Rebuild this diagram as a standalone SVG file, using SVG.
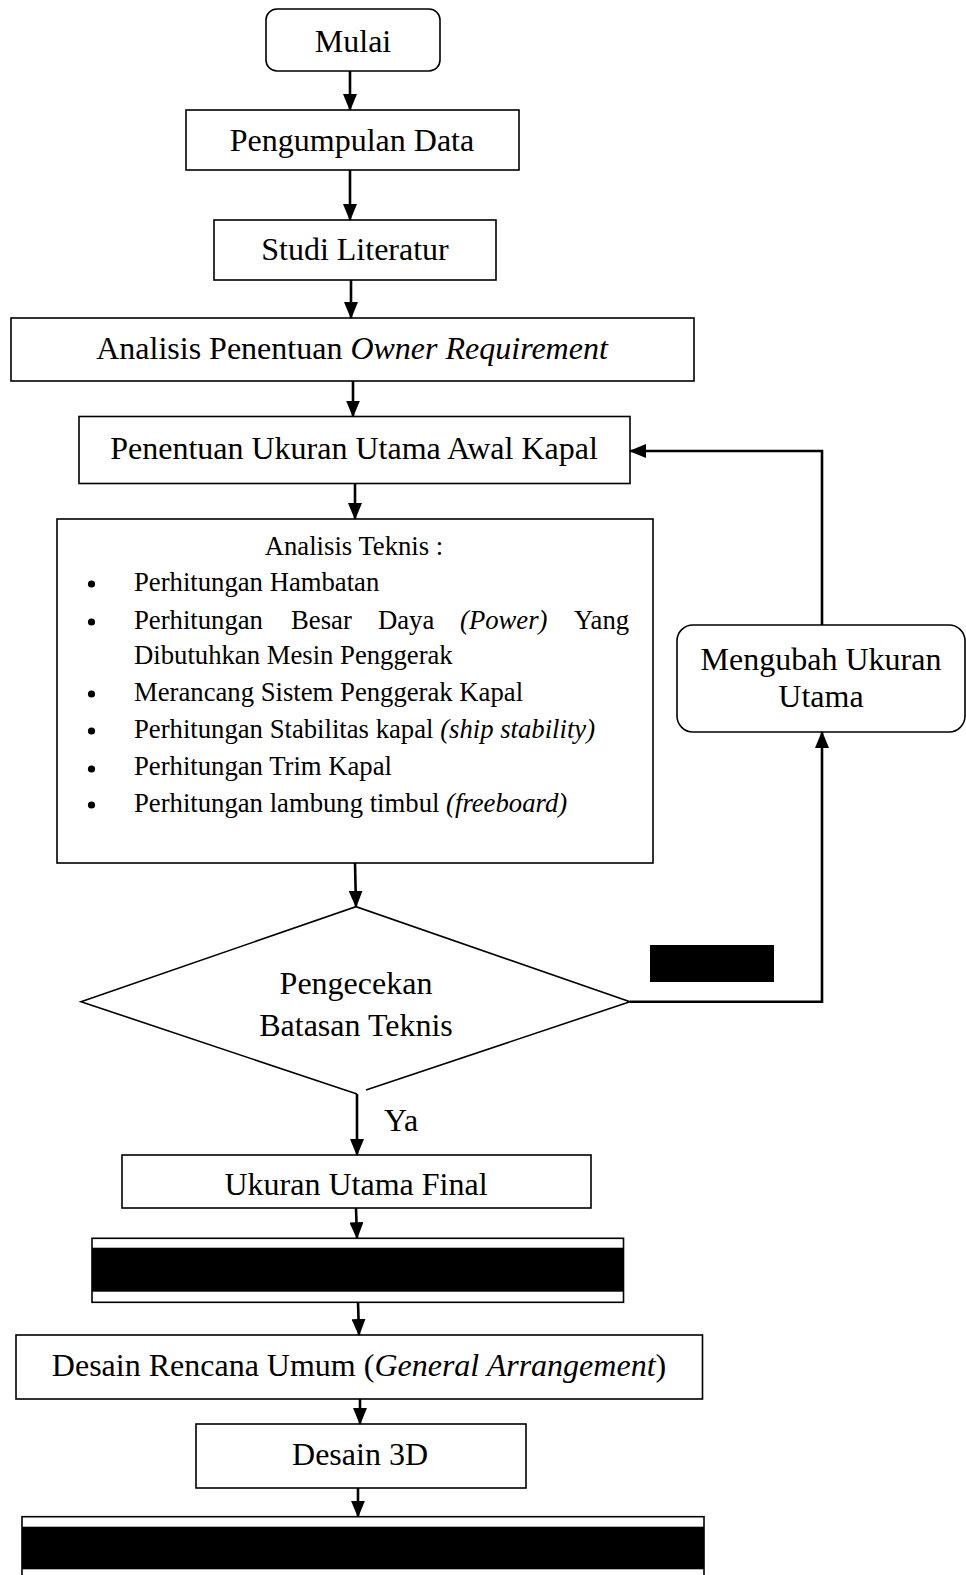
<svg xmlns="http://www.w3.org/2000/svg" width="966" height="1575" viewBox="0 0 966 1575">
<style>
.box{fill:#fff;stroke:#000;stroke-width:1.6}
.t{font-family:"Liberation Serif","Times New Roman",serif;font-size:32px;fill:#000}
.s{font-family:"Liberation Serif","Times New Roman",serif;font-size:26.7px;fill:#000}
.c{text-anchor:middle}
.i{font-style:italic}
.con{fill:none;stroke:#000;stroke-width:2.6}
.blk{fill:#000}
</style>
<defs>
<marker id="ah" viewBox="0 0 17 14" refX="16" refY="7" markerWidth="17" markerHeight="14" markerUnits="userSpaceOnUse" orient="auto">
<path d="M0,0 L17,7 L0,14 z" fill="#000"/>
</marker>
</defs>
<rect width="966" height="1575" fill="#fff"/>

<g id="mulai">
<rect class="box" x="266" y="9" width="174" height="62" rx="11"/>
<text class="t c" x="353" y="52">Mulai</text>
</g>
<g id="pengumpulan">
<rect class="box" x="186" y="110" width="333" height="60"/>
<text class="t c" x="352" y="151">Pengumpulan Data</text>
</g>
<g id="studi">
<rect class="box" x="214" y="220" width="282" height="60"/>
<text class="t c" x="355" y="260">Studi Literatur</text>
</g>
<g id="owner">
<rect class="box" x="11" y="318" width="683" height="63"/>
<text class="t c" x="352" y="359">Analisis Penentuan <tspan class="i">Owner Requirement</tspan></text>
</g>
<g id="awal">
<rect class="box" x="79" y="416.5" width="551" height="67"/>
<text class="t c" x="354" y="459">Penentuan Ukuran Utama Awal Kapal</text>
</g>
<g id="teknis">
<rect class="box" x="57" y="519" width="596" height="344"/>
<text class="s c" x="354" y="555">Analisis Teknis :</text>
<g fill="#000">
<circle cx="91.5" cy="584" r="3.6"/>
<circle cx="91.5" cy="622" r="3.6"/>
<circle cx="91.5" cy="694" r="3.6"/>
<circle cx="91.5" cy="731" r="3.6"/>
<circle cx="91.5" cy="769" r="3.6"/>
<circle cx="91.5" cy="805" r="3.6"/>
</g>
<text class="s" x="134" y="591">Perhitungan Hambatan</text>
<text class="s" y="628.5"><tspan x="134">Perhitungan</tspan><tspan x="291">Besar</tspan><tspan x="378">Daya</tspan><tspan x="460" class="i">(Power)</tspan><tspan x="574">Yang</tspan></text>
<text class="s" x="134" y="663.5">Dibutuhkan Mesin Penggerak</text>
<text class="s" x="134" y="700.5">Merancang Sistem Penggerak Kapal</text>
<text class="s" x="134" y="738">Perhitungan Stabilitas kapal <tspan class="i">(ship stability)</tspan></text>
<text class="s" x="134" y="775">Perhitungan Trim Kapal</text>
<text class="s" x="134" y="812">Perhitungan lambung timbul <tspan class="i">(freeboard)</tspan></text>
</g>
<g id="mengubah">
<rect class="box" x="677" y="625" width="288" height="107" rx="16"/>
<text class="t c" x="821" y="670">Mengubah Ukuran</text>
<text class="t c" x="821" y="707">Utama</text>
</g>
<g id="cek">
<path class="box" d="M357,1094 L81,1001.7 L356,906.7 L630,1001.7 L366,1090"/>
<text class="t c" x="356" y="994">Pengecekan</text>
<text class="t c" x="356" y="1036">Batasan Teknis</text>
</g>
<g id="label-tidak">
<rect class="blk" x="650" y="945" width="124" height="37"/>
</g>
<g id="final">
<rect class="box" x="122" y="1155" width="469" height="53"/>
<text class="t c" x="356" y="1195">Ukuran Utama Final</text>
</g>
<g id="redacted1">
<rect class="box" x="92" y="1238.3" width="531.5" height="64"/>
<rect class="blk" x="92" y="1247.7" width="531.5" height="44"/>
</g>
<g id="ga">
<rect class="box" x="16" y="1335" width="686.5" height="64"/>
<text class="t c" x="359" y="1376">Desain Rencana Umum (<tspan class="i">General Arrangement</tspan>)</text>
</g>
<g id="desain3d">
<rect class="box" x="196" y="1424" width="330" height="64"/>
<text class="t c" x="360" y="1465">Desain 3D</text>
</g>
<g id="redacted2">
<rect class="box" x="22" y="1516.7" width="682" height="70"/>
<rect class="blk" x="22" y="1526.7" width="682" height="42.6"/>
</g>

<g id="connectors">
<path class="con" d="M350,71 V110" marker-end="url(#ah)"/>
<path class="con" d="M350,170 V220" marker-end="url(#ah)"/>
<path class="con" d="M351,280 V318" marker-end="url(#ah)"/>
<path class="con" d="M353,381 V416.5" marker-end="url(#ah)"/>
<path class="con" d="M355,484 V519" marker-end="url(#ah)"/>
<path class="con" d="M355,863 L356,906.7" marker-end="url(#ah)"/>
<path class="con" d="M357,1094 V1155" marker-end="url(#ah)"/>
<path class="con" d="M356,1208 L357,1238.3" marker-end="url(#ah)"/>
<path class="con" d="M358,1302 L359,1335" marker-end="url(#ah)"/>
<path class="con" d="M360,1399 V1424" marker-end="url(#ah)"/>
<path class="con" d="M358,1488 V1516.7" marker-end="url(#ah)"/>
<path class="con" d="M630,1001.7 H822 V732" marker-end="url(#ah)"/>
<path class="con" d="M822,625 V451 H630" marker-end="url(#ah)"/>
<text class="t" x="384" y="1131">Ya</text>
</g>
</svg>
